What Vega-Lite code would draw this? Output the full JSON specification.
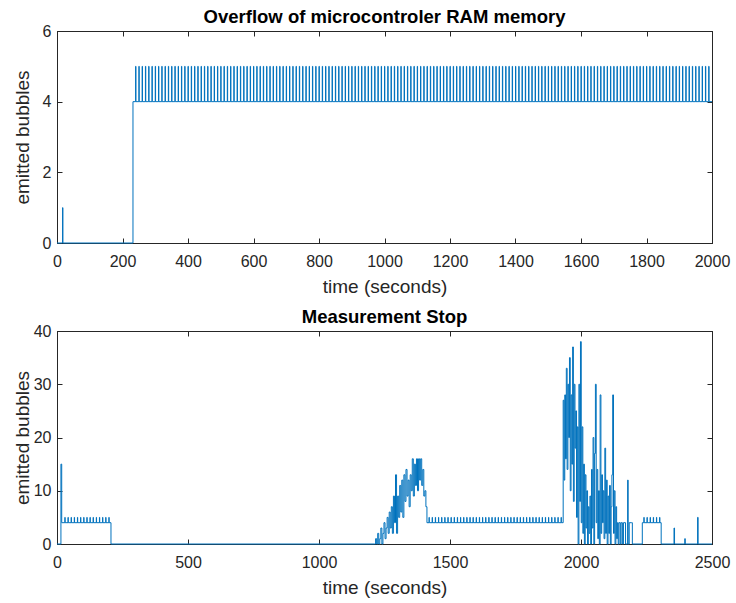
{
"$schema": "https://vega.github.io/schema/vega-lite/v6.json",
"padding": {"left": 12, "top": 7, "right": 10, "bottom": 5},
"bounds": "flush",
"spacing": 88,
"config": {
 "font": "Liberation Sans",
 "view": {"stroke": "#262626", "strokeWidth": 1},
 "axis": {"grid": false, "domainColor": "#262626", "tickColor": "#262626", "tickSize": -5, "labelColor": "#262626", "labelFontSize": 16, "titleColor": "#262626", "titleFontSize": 19, "titleFontWeight": "normal", "labelFlush": false, "labelOverlap": false, "format": "d"},
 "axisX": {"labelPadding": 15, "titlePadding": 8},
 "axisY": {"labelPadding": 11},
 "title": {"fontSize": 18.5, "fontWeight": "bold", "color": "#000000", "offset": -3}
},
"datasets": {
 "top": [{"t":0,"v":0},{"t":17,"v":1},{"t":18,"v":0},{"t":232,"v":4},
{"t":240,"v":5},{"t":241,"v":4},{"t":250,"v":5},{"t":251,"v":4},{"t":260,"v":5},{"t":261,"v":4},{"t":270,"v":5},{"t":271,"v":4},{"t":280,"v":5},{"t":281,"v":4},{"t":290,"v":5},{"t":291,"v":4},
{"t":300,"v":5},{"t":301,"v":4},{"t":310,"v":5},{"t":311,"v":4},{"t":320,"v":5},{"t":321,"v":4},{"t":330,"v":5},{"t":331,"v":4},{"t":340,"v":5},{"t":341,"v":4},{"t":350,"v":5},{"t":351,"v":4},{"t":360,"v":5},{"t":361,"v":4},{"t":370,"v":5},{"t":371,"v":4},{"t":380,"v":5},{"t":381,"v":4},{"t":390,"v":5},{"t":391,"v":4},
{"t":400,"v":5},{"t":401,"v":4},{"t":410,"v":5},{"t":411,"v":4},{"t":420,"v":5},{"t":421,"v":4},{"t":430,"v":5},{"t":431,"v":4},{"t":440,"v":5},{"t":441,"v":4},{"t":450,"v":5},{"t":451,"v":4},{"t":460,"v":5},{"t":461,"v":4},{"t":470,"v":5},{"t":471,"v":4},{"t":480,"v":5},{"t":481,"v":4},{"t":490,"v":5},{"t":491,"v":4},
{"t":500,"v":5},{"t":501,"v":4},{"t":510,"v":5},{"t":511,"v":4},{"t":520,"v":5},{"t":521,"v":4},{"t":530,"v":5},{"t":531,"v":4},{"t":540,"v":5},{"t":541,"v":4},{"t":550,"v":5},{"t":551,"v":4},{"t":560,"v":5},{"t":561,"v":4},{"t":570,"v":5},{"t":571,"v":4},{"t":580,"v":5},{"t":581,"v":4},{"t":590,"v":5},{"t":591,"v":4},
{"t":600,"v":5},{"t":601,"v":4},{"t":610,"v":5},{"t":611,"v":4},{"t":620,"v":5},{"t":621,"v":4},{"t":630,"v":5},{"t":631,"v":4},{"t":640,"v":5},{"t":641,"v":4},{"t":650,"v":5},{"t":651,"v":4},{"t":660,"v":5},{"t":661,"v":4},{"t":670,"v":5},{"t":671,"v":4},{"t":680,"v":5},{"t":681,"v":4},{"t":690,"v":5},{"t":691,"v":4},
{"t":700,"v":5},{"t":701,"v":4},{"t":710,"v":5},{"t":711,"v":4},{"t":720,"v":5},{"t":721,"v":4},{"t":730,"v":5},{"t":731,"v":4},{"t":740,"v":5},{"t":741,"v":4},{"t":750,"v":5},{"t":751,"v":4},{"t":760,"v":5},{"t":761,"v":4},{"t":770,"v":5},{"t":771,"v":4},{"t":780,"v":5},{"t":781,"v":4},{"t":790,"v":5},{"t":791,"v":4},
{"t":800,"v":5},{"t":801,"v":4},{"t":810,"v":5},{"t":811,"v":4},{"t":820,"v":5},{"t":821,"v":4},{"t":830,"v":5},{"t":831,"v":4},{"t":840,"v":5},{"t":841,"v":4},{"t":850,"v":5},{"t":851,"v":4},{"t":860,"v":5},{"t":861,"v":4},{"t":870,"v":5},{"t":871,"v":4},{"t":880,"v":5},{"t":881,"v":4},{"t":890,"v":5},{"t":891,"v":4},
{"t":900,"v":5},{"t":901,"v":4},{"t":910,"v":5},{"t":911,"v":4},{"t":920,"v":5},{"t":921,"v":4},{"t":930,"v":5},{"t":931,"v":4},{"t":940,"v":5},{"t":941,"v":4},{"t":950,"v":5},{"t":951,"v":4},{"t":960,"v":5},{"t":961,"v":4},{"t":970,"v":5},{"t":971,"v":4},{"t":980,"v":5},{"t":981,"v":4},{"t":990,"v":5},{"t":991,"v":4},
{"t":1000,"v":5},{"t":1001,"v":4},{"t":1010,"v":5},{"t":1011,"v":4},{"t":1020,"v":5},{"t":1021,"v":4},{"t":1030,"v":5},{"t":1031,"v":4},{"t":1040,"v":5},{"t":1041,"v":4},{"t":1050,"v":5},{"t":1051,"v":4},{"t":1060,"v":5},{"t":1061,"v":4},{"t":1070,"v":5},{"t":1071,"v":4},{"t":1080,"v":5},{"t":1081,"v":4},{"t":1090,"v":5},{"t":1091,"v":4},
{"t":1100,"v":5},{"t":1101,"v":4},{"t":1110,"v":5},{"t":1111,"v":4},{"t":1120,"v":5},{"t":1121,"v":4},{"t":1130,"v":5},{"t":1131,"v":4},{"t":1140,"v":5},{"t":1141,"v":4},{"t":1150,"v":5},{"t":1151,"v":4},{"t":1160,"v":5},{"t":1161,"v":4},{"t":1170,"v":5},{"t":1171,"v":4},{"t":1180,"v":5},{"t":1181,"v":4},{"t":1190,"v":5},{"t":1191,"v":4},
{"t":1200,"v":5},{"t":1201,"v":4},{"t":1210,"v":5},{"t":1211,"v":4},{"t":1220,"v":5},{"t":1221,"v":4},{"t":1230,"v":5},{"t":1231,"v":4},{"t":1240,"v":5},{"t":1241,"v":4},{"t":1250,"v":5},{"t":1251,"v":4},{"t":1260,"v":5},{"t":1261,"v":4},{"t":1270,"v":5},{"t":1271,"v":4},{"t":1280,"v":5},{"t":1281,"v":4},{"t":1290,"v":5},{"t":1291,"v":4},
{"t":1300,"v":5},{"t":1301,"v":4},{"t":1310,"v":5},{"t":1311,"v":4},{"t":1320,"v":5},{"t":1321,"v":4},{"t":1330,"v":5},{"t":1331,"v":4},{"t":1340,"v":5},{"t":1341,"v":4},{"t":1350,"v":5},{"t":1351,"v":4},{"t":1360,"v":5},{"t":1361,"v":4},{"t":1370,"v":5},{"t":1371,"v":4},{"t":1380,"v":5},{"t":1381,"v":4},{"t":1390,"v":5},{"t":1391,"v":4},
{"t":1400,"v":5},{"t":1401,"v":4},{"t":1410,"v":5},{"t":1411,"v":4},{"t":1420,"v":5},{"t":1421,"v":4},{"t":1430,"v":5},{"t":1431,"v":4},{"t":1440,"v":5},{"t":1441,"v":4},{"t":1450,"v":5},{"t":1451,"v":4},{"t":1460,"v":5},{"t":1461,"v":4},{"t":1470,"v":5},{"t":1471,"v":4},{"t":1480,"v":5},{"t":1481,"v":4},{"t":1490,"v":5},{"t":1491,"v":4},
{"t":1500,"v":5},{"t":1501,"v":4},{"t":1510,"v":5},{"t":1511,"v":4},{"t":1520,"v":5},{"t":1521,"v":4},{"t":1530,"v":5},{"t":1531,"v":4},{"t":1540,"v":5},{"t":1541,"v":4},{"t":1550,"v":5},{"t":1551,"v":4},{"t":1560,"v":5},{"t":1561,"v":4},{"t":1570,"v":5},{"t":1571,"v":4},{"t":1580,"v":5},{"t":1581,"v":4},{"t":1590,"v":5},{"t":1591,"v":4},
{"t":1600,"v":5},{"t":1601,"v":4},{"t":1610,"v":5},{"t":1611,"v":4},{"t":1620,"v":5},{"t":1621,"v":4},{"t":1630,"v":5},{"t":1631,"v":4},{"t":1640,"v":5},{"t":1641,"v":4},{"t":1650,"v":5},{"t":1651,"v":4},{"t":1660,"v":5},{"t":1661,"v":4},{"t":1670,"v":5},{"t":1671,"v":4},{"t":1680,"v":5},{"t":1681,"v":4},{"t":1690,"v":5},{"t":1691,"v":4},
{"t":1700,"v":5},{"t":1701,"v":4},{"t":1710,"v":5},{"t":1711,"v":4},{"t":1720,"v":5},{"t":1721,"v":4},{"t":1730,"v":5},{"t":1731,"v":4},{"t":1740,"v":5},{"t":1741,"v":4},{"t":1750,"v":5},{"t":1751,"v":4},{"t":1760,"v":5},{"t":1761,"v":4},{"t":1770,"v":5},{"t":1771,"v":4},{"t":1780,"v":5},{"t":1781,"v":4},{"t":1790,"v":5},{"t":1791,"v":4},
{"t":1800,"v":5},{"t":1801,"v":4},{"t":1810,"v":5},{"t":1811,"v":4},{"t":1820,"v":5},{"t":1821,"v":4},{"t":1830,"v":5},{"t":1831,"v":4},{"t":1840,"v":5},{"t":1841,"v":4},{"t":1850,"v":5},{"t":1851,"v":4},{"t":1860,"v":5},{"t":1861,"v":4},{"t":1870,"v":5},{"t":1871,"v":4},{"t":1880,"v":5},{"t":1881,"v":4},{"t":1890,"v":5},{"t":1891,"v":4},
{"t":1900,"v":5},{"t":1901,"v":4},{"t":1910,"v":5},{"t":1911,"v":4},{"t":1920,"v":5},{"t":1921,"v":4},{"t":1930,"v":5},{"t":1931,"v":4},{"t":1940,"v":5},{"t":1941,"v":4},{"t":1950,"v":5},{"t":1951,"v":4},{"t":1960,"v":5},{"t":1961,"v":4},{"t":1970,"v":5},{"t":1971,"v":4},{"t":1980,"v":5},{"t":1981,"v":4},{"t":1990,"v":5},{"t":1991,"v":4},
{"t":2000,"v":4}],
 "bot": [{"t":0,"v":0},{"t":15,"v":15},{"t":18,"v":4},
{"t":30,"v":5},{"t":31,"v":4},{"t":42,"v":5},{"t":43,"v":4},{"t":54,"v":5},{"t":55,"v":4},{"t":66,"v":5},{"t":67,"v":4},{"t":78,"v":5},{"t":79,"v":4},{"t":90,"v":5},{"t":91,"v":4},{"t":102,"v":5},{"t":103,"v":4},{"t":114,"v":5},{"t":115,"v":4},{"t":126,"v":5},{"t":127,"v":4},{"t":138,"v":5},{"t":139,"v":4},{"t":150,"v":5},{"t":151,"v":4},{"t":162,"v":5},{"t":163,"v":4},{"t":174,"v":5},{"t":175,"v":4},{"t":186,"v":5},{"t":187,"v":4},{"t":198,"v":5},{"t":199,"v":4},
{"t":206,"v":0},
{"t":1212,"v":0},{"t":1216,"v":1},{"t":1220,"v":0},{"t":1224,"v":2},{"t":1228,"v":0},{"t":1232,"v":1},{"t":1236,"v":3},{"t":1240,"v":0},{"t":1244,"v":2},{"t":1248,"v":4},{"t":1252,"v":1},{"t":1256,"v":3},{"t":1260,"v":5},{"t":1264,"v":2},{"t":1268,"v":6},{"t":1272,"v":3},{"t":1276,"v":7},{"t":1280,"v":2},{"t":1284,"v":9},{"t":1288,"v":4},{"t":1292,"v":13},{"t":1296,"v":2},{"t":1300,"v":9},{"t":1304,"v":5},{"t":1308,"v":11},{"t":1312,"v":6},{"t":1316,"v":12},{"t":1320,"v":5},{"t":1324,"v":13},{"t":1328,"v":8},{"t":1332,"v":14},{"t":1336,"v":9},{"t":1340,"v":12},{"t":1344,"v":7},{"t":1348,"v":13},{"t":1352,"v":10},{"t":1356,"v":16},{"t":1360,"v":9},{"t":1364,"v":15},{"t":1368,"v":11},{"t":1372,"v":16},{"t":1376,"v":10},{"t":1380,"v":16},{"t":1384,"v":12},{"t":1388,"v":16},{"t":1392,"v":11},{"t":1396,"v":14},{"t":1400,"v":9},{"t":1404,"v":10},{"t":1408,"v":7},{"t":1412,"v":4},
{"t":1420,"v":5},{"t":1421,"v":4},{"t":1432,"v":5},{"t":1433,"v":4},{"t":1444,"v":5},{"t":1445,"v":4},{"t":1456,"v":5},{"t":1457,"v":4},{"t":1468,"v":5},{"t":1469,"v":4},{"t":1480,"v":5},{"t":1481,"v":4},{"t":1492,"v":5},{"t":1493,"v":4},{"t":1504,"v":5},{"t":1505,"v":4},{"t":1516,"v":5},{"t":1517,"v":4},{"t":1528,"v":5},{"t":1529,"v":4},{"t":1540,"v":5},{"t":1541,"v":4},{"t":1552,"v":5},{"t":1553,"v":4},{"t":1564,"v":5},{"t":1565,"v":4},{"t":1576,"v":5},{"t":1577,"v":4},{"t":1588,"v":5},{"t":1589,"v":4},{"t":1600,"v":5},{"t":1601,"v":4},{"t":1612,"v":5},{"t":1613,"v":4},{"t":1624,"v":5},{"t":1625,"v":4},{"t":1636,"v":5},{"t":1637,"v":4},{"t":1648,"v":5},{"t":1649,"v":4},{"t":1660,"v":5},{"t":1661,"v":4},{"t":1672,"v":5},{"t":1673,"v":4},{"t":1684,"v":5},{"t":1685,"v":4},{"t":1696,"v":5},{"t":1697,"v":4},{"t":1708,"v":5},{"t":1709,"v":4},{"t":1720,"v":5},{"t":1721,"v":4},{"t":1732,"v":5},{"t":1733,"v":4},{"t":1744,"v":5},{"t":1745,"v":4},{"t":1756,"v":5},{"t":1757,"v":4},{"t":1768,"v":5},{"t":1769,"v":4},{"t":1780,"v":5},{"t":1781,"v":4},{"t":1792,"v":5},{"t":1793,"v":4},{"t":1804,"v":5},{"t":1805,"v":4},{"t":1816,"v":5},{"t":1817,"v":4},{"t":1828,"v":5},{"t":1829,"v":4},{"t":1840,"v":5},{"t":1841,"v":4},{"t":1852,"v":5},{"t":1853,"v":4},{"t":1864,"v":5},{"t":1865,"v":4},{"t":1876,"v":5},{"t":1877,"v":4},{"t":1888,"v":5},{"t":1889,"v":4},{"t":1900,"v":5},{"t":1901,"v":4},{"t":1912,"v":5},{"t":1913,"v":4},{"t":1924,"v":5},{"t":1925,"v":4},
{"t":1932,"v":27},{"t":1935,"v":12},{"t":1938,"v":28},{"t":1941,"v":16},{"t":1944,"v":33},{"t":1947,"v":14},{"t":1950,"v":30},{"t":1953,"v":20},{"t":1956,"v":35},{"t":1959,"v":10},{"t":1962,"v":28},{"t":1965,"v":15},{"t":1968,"v":37},{"t":1971,"v":8},{"t":1974,"v":30},{"t":1977,"v":18},{"t":1980,"v":25},{"t":1983,"v":5},{"t":1986,"v":22},{"t":1989,"v":0},{"t":1992,"v":30},{"t":1995,"v":8},{"t":1998,"v":38},{"t":2001,"v":4},{"t":2004,"v":22},{"t":2007,"v":2},{"t":2010,"v":15},{"t":2013,"v":0},{"t":2016,"v":13},{"t":2019,"v":3},{"t":2022,"v":10},{"t":2025,"v":0},{"t":2028,"v":7},{"t":2031,"v":2},{"t":2034,"v":9},{"t":2037,"v":0},{"t":2040,"v":14},{"t":2043,"v":3},{"t":2046,"v":20},{"t":2049,"v":0},{"t":2052,"v":17},{"t":2055,"v":30},{"t":2058,"v":4},{"t":2061,"v":14},{"t":2064,"v":1},{"t":2067,"v":10},{"t":2070,"v":0},{"t":2073,"v":28},{"t":2076,"v":2},{"t":2079,"v":13},{"t":2082,"v":4},{"t":2085,"v":10},{"t":2088,"v":1},{"t":2091,"v":18},{"t":2094,"v":2},{"t":2097,"v":12},{"t":2100,"v":0},{"t":2103,"v":9},{"t":2106,"v":2},{"t":2109,"v":11},{"t":2112,"v":0},{"t":2115,"v":7},{"t":2118,"v":13},{"t":2121,"v":28},{"t":2124,"v":2},{"t":2127,"v":10},{"t":2130,"v":0},{"t":2133,"v":7},{"t":2136,"v":1},{"t":2139,"v":4},{"t":2142,"v":0},{"t":2145,"v":4},{"t":2150,"v":0},{"t":2153,"v":4},{"t":2158,"v":0},{"t":2162,"v":4},{"t":2170,"v":0},{"t":2178,"v":12},{"t":2180,"v":0},{"t":2184,"v":4},{"t":2192,"v":4},{"t":2196,"v":0},
{"t":2234,"v":4},{"t":2240,"v":5},{"t":2241,"v":4},{"t":2252,"v":5},{"t":2253,"v":4},{"t":2264,"v":5},{"t":2265,"v":4},{"t":2276,"v":5},{"t":2277,"v":4},{"t":2288,"v":5},{"t":2289,"v":4},{"t":2300,"v":5},{"t":2301,"v":4},
{"t":2306,"v":0},{"t":2355,"v":3},{"t":2357,"v":0},{"t":2396,"v":1},{"t":2398,"v":0},{"t":2445,"v":5},{"t":2447,"v":0},{"t":2500,"v":0}]
},
"vconcat": [
 {
  "width": 655, "height": 212,
  "title": {"text": "Overflow of microcontroler RAM memory"},
  "data": {"name": "top"},
  "layer": [
   {"mark": {"type": "line", "interpolate": "step-after", "color": "#0072BD", "strokeWidth": 1},
    "encoding": {
     "x": {"field": "t", "type": "quantitative", "scale": {"domain": [0, 2000], "nice": false, "zero": false},
           "axis": {"orient": "bottom", "title": "time (seconds)", "values": [0,200,400,600,800,1000,1200,1400,1600,1800,2000]}},
     "y": {"field": "v", "type": "quantitative", "scale": {"domain": [0, 6], "nice": false},
           "axis": {"orient": "left", "title": "emitted bubbles", "values": [0,2,4,6], "titlePadding": 10}}
    }},
   {"mark": {"type": "line", "opacity": 0},
    "encoding": {
     "x": {"field": "t", "type": "quantitative", "axis": {"orient": "top", "labels": false, "title": null, "values": [0,200,400,600,800,1000,1200,1400,1600,1800,2000]}},
     "y": {"field": "v", "type": "quantitative", "axis": {"orient": "right", "labels": false, "title": null, "values": [0,2,4,6]}}
    }}
  ],
  "resolve": {"axis": {"x": "independent", "y": "independent"}}
 },
 {
  "width": 655, "height": 213,
  "title": {"text": "Measurement Stop"},
  "data": {"name": "bot"},
  "layer": [
   {"mark": {"type": "line", "interpolate": "step-after", "color": "#0072BD", "strokeWidth": 1},
    "encoding": {
     "x": {"field": "t", "type": "quantitative", "scale": {"domain": [0, 2500], "nice": false, "zero": false},
           "axis": {"orient": "bottom", "title": "time (seconds)", "values": [0,500,1000,1500,2000,2500]}},
     "y": {"field": "v", "type": "quantitative", "scale": {"domain": [0, 40], "nice": false},
           "axis": {"orient": "left", "title": "emitted bubbles", "values": [0,10,20,30,40], "titlePadding": 1}}
    }},
   {"mark": {"type": "line", "opacity": 0},
    "encoding": {
     "x": {"field": "t", "type": "quantitative", "axis": {"orient": "top", "labels": false, "title": null, "values": [0,500,1000,1500,2000,2500]}},
     "y": {"field": "v", "type": "quantitative", "axis": {"orient": "right", "labels": false, "title": null, "values": [0,10,20,30,40]}}
    }}
  ],
  "resolve": {"axis": {"x": "independent", "y": "independent"}}
 }
]
}
